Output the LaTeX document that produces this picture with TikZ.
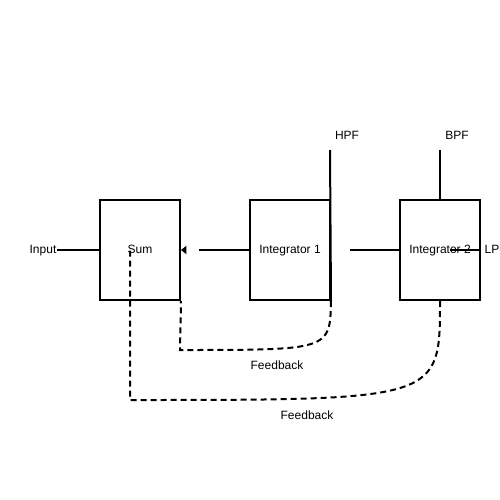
\documentclass[tikz,border=0pt]{standalone}
\usepackage{fontspec}
\setmainfont{Liberation Sans}
\usetikzlibrary{positioning,arrows.meta}

\begin{document}
\begin{tikzpicture}[x=0.75pt,y=-0.75pt,line width=1.5pt,node distance=112.5pt,on grid,
		every node/.style={font=\fontsize{9}{11}\selectfont,text height=1ex,text depth=0pt},
		block/.style={draw,minimum width=60pt,minimum height=75pt,inner sep=0pt},
		lbl/.style={inner sep=0pt},
		fb/.style={dash pattern=on 4.5pt off 3pt}]
			\useasboundingbox (0,0) rectangle (500,500);
			\node[block] (sum) at (140,250) {Sum};
			\node[block] (int_1) [right=of sum] {Integrator 1};
			\node[block] (int_2) [right=of int_1] {Integrator 2};
			\node[lbl] (in) at (43,250) {Input};
			\node[lbl] (hpf) at (347,136) {HPF};
			\node[lbl] (bpf) at (457,136) {BPF};
			\node[lbl] (lp) at (492,250) {LP};
			\node[lbl] (fb_1) at (277,366) {Feedback};
			\node[lbl] (fb_2) at (307,416) {Feedback};
			\coordinate (hpf_top) at (330,150);
			\coordinate (bpf_top) at (440,150);
			\coordinate (lp_tap) at (450,250);
			\coordinate (int_1_out) at (350,250);
			\coordinate (sum_tap) at (130,250);
			\path[draw]
			(in.east) edge (sum.west)
			(int_1.south east) edge (hpf_top)
			(int_2.north) edge (bpf_top)
			(lp_tap) edge (int_2.east)
			(int_1_out) edge (int_2.west);
			\draw[-{Triangle[length=4pt,width=6pt]},dash pattern=on 37.5pt off 100pt] (int_1.west) -- (sum.east);
			\draw[fb] (int_1.south east) .. controls (330,350) .. (180,350) -- (sum.south east);
			\draw[fb] (int_2.south) .. controls (440,400) .. (130,400) -- (sum_tap);
		\end{tikzpicture}
\end{document}
